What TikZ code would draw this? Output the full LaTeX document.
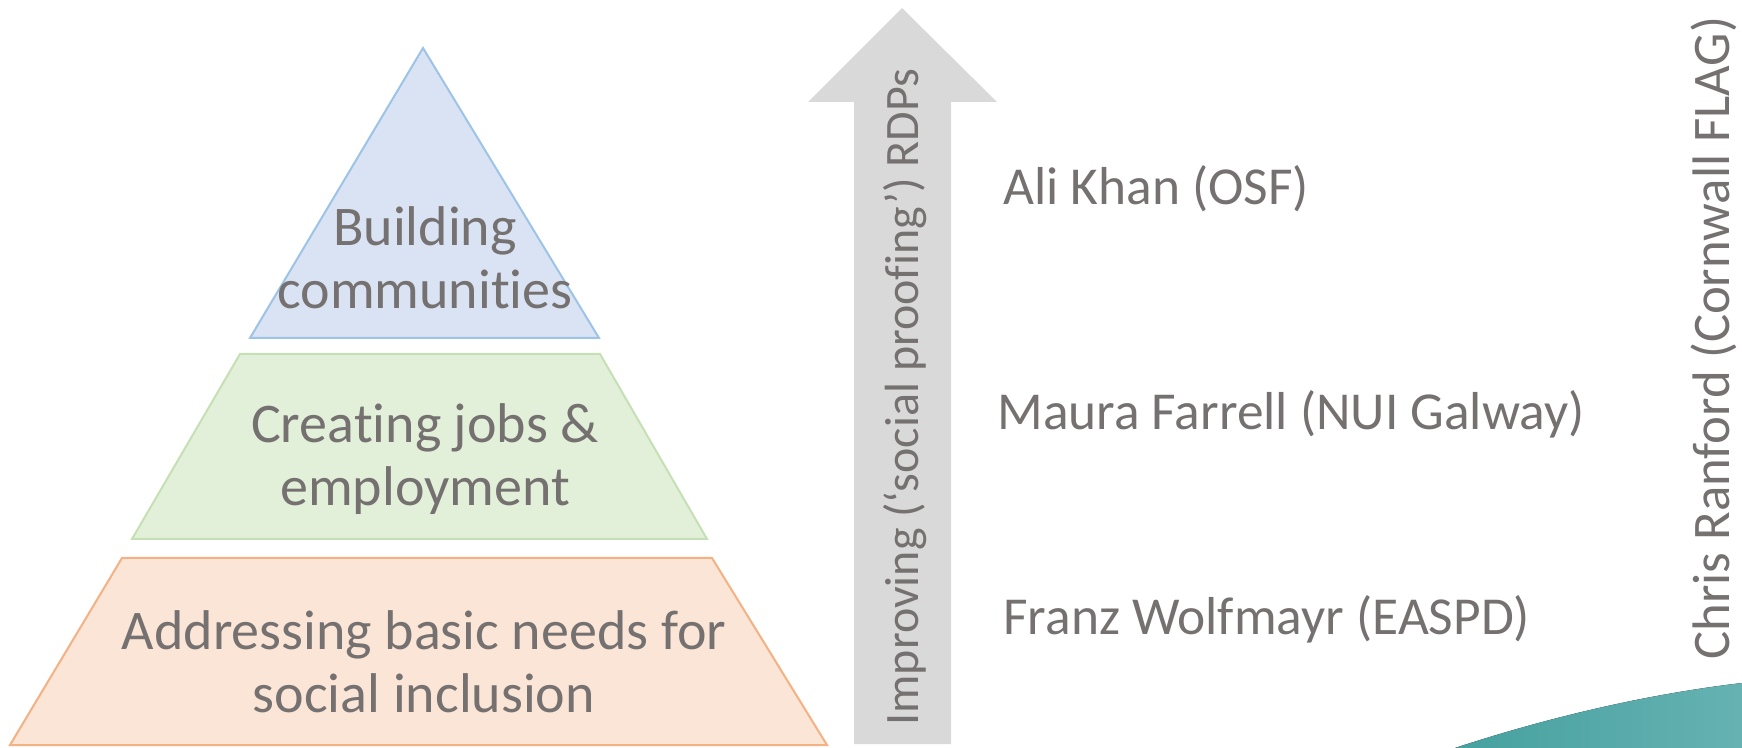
\documentclass[tikz,border=0pt]{standalone}
\usepackage{fontspec}
\setmainfont{Carlito}[Ligatures={NoCommon,NoContextual}]
\usetikzlibrary{positioning}

\definecolor{txtgrey}{HTML}{767171}
\definecolor{blueFill}{HTML}{DAE3F3}
\definecolor{blueLine}{HTML}{9DC3E6}
\definecolor{greenFill}{HTML}{E2F0D9}
\definecolor{greenLine}{HTML}{C5E0B4}
\definecolor{orangeFill}{HTML}{FBE5D6}
\definecolor{orangeLine}{HTML}{F4B183}
\definecolor{arrowGrey}{HTML}{D9D9D9}
\definecolor{tealDark}{HTML}{45A19F}
\definecolor{tealLight}{HTML}{66B2B2}

\tikzset{
    level/.style={line width=1pt, line join=miter},
    leveltext/.style={text=txtgrey, align=center, font=\fontsize{28}{31.5}\selectfont},
    speaker/.style={text=txtgrey, anchor=west, inner sep=0pt, font=\fontsize{26.7}{30}\selectfont},
}

\begin{document}
\begin{tikzpicture}[x=0.5pt,y=-0.5pt]
    \useasboundingbox (0,0) rectangle (1742,748);
    \fill[left color=tealDark, right color=tealLight] (1455,748) .. controls (1540,720) and (1640,695) .. (1742,683) -- (1742,748) -- cycle;

    \filldraw[level, fill=blueFill, draw=blueLine] (423,48) -- (599,338) -- (250,338) -- cycle;
    \filldraw[level, fill=greenFill, draw=greenLine] (240,354) -- (600,354) -- (707,539) -- (132,539) -- cycle;
    \filldraw[level, fill=orangeFill, draw=orangeLine] (122,558) -- (712,558) -- (827,745) -- (10,745) -- cycle;

    \node[leveltext] (build) at (425,258) {Building\\communities};
    \node[leveltext] (jobs) at (425,459) {Creating jobs \&\\employment};
    \node[leveltext] (needs) at (424,662) {Addressing basic needs for\\social inclusion};

    \fill[arrowGrey] (854,744) -- (854,102) -- (808,102) -- (902,8) -- (997,102) -- (951,102) -- (951,744) -- cycle;
    \node[text=txtgrey, rotate=90, anchor=base west, inner sep=0pt, font=\fontsize{24}{28}\selectfont] (rdps) at (918,726) {Improving (‘social proofing’) RDPs};

    \node[speaker] (ali) at (1003,189) {Ali Khan (OSF)};
    \node[speaker] (maura) at (997,414) {Maura Farrell (NUI Galway)};
    \node[speaker] (franz) at (1003,619) {Franz Wolfmayr (EASPD)};

    \node[text=txtgrey, rotate=90, inner sep=0pt, font=\fontsize{26.4}{30}\selectfont] (chris) at (1714,338) {Chris Ranford (Cornwall FLAG)};
\end{tikzpicture}
\end{document}
